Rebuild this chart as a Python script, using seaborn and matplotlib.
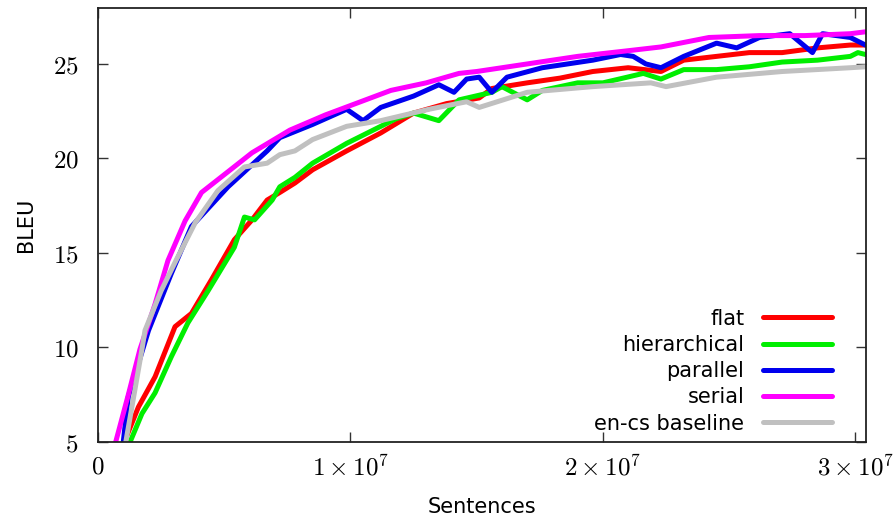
import pandas as pd
import matplotlib
matplotlib.use("Agg")
import matplotlib.pyplot as plt
import seaborn as sns

# -----------------------
# Data (x in millions of sentences)
# -----------------------
flat_x = [1.07, 1.6, 2.26, 3.05, 3.7, 4.5, 5.4, 6.1, 6.7, 7.2, 7.8, 8.5, 9.85, 11.2, 12.5, 13.8,
          15.1, 15.6, 17.0, 18.3, 19.6, 21.0, 22.3, 23.2, 24.5, 25.8, 27.1, 28.5, 29.8, 30.4]
flat_y = [5.1, 6.85, 8.45, 11.1, 11.8, 13.6, 15.7, 16.75, 17.8, 18.2, 18.7, 19.4, 20.4, 21.35, 22.4, 22.9,
          23.2, 23.7, 24.0, 24.25, 24.6, 24.8, 24.6, 25.2, 25.4, 25.6, 25.6, 25.85, 26.0, 26.0]

hier_x = [1.27, 1.74, 2.26, 2.9, 3.56, 4.36, 5.4, 5.8, 6.2, 6.9, 7.2, 7.8, 8.5, 9.85, 11.2, 11.8, 12.5,
          13.5, 14.3, 15.6, 16.0, 17.0, 17.6, 19.0, 20.0, 21.6, 22.3, 23.2, 24.5, 25.8, 27.1, 28.5,
          29.8, 30.1, 30.4]
hier_y = [5.0, 6.5, 7.6, 9.5, 11.3, 13.0, 15.3, 16.9, 16.75, 17.8, 18.5, 19.0, 19.75, 20.8, 21.7, 22.1, 22.4,
          22.0, 23.1, 23.5, 23.8, 23.1, 23.6, 24.0, 24.0, 24.5, 24.2, 24.7, 24.7, 24.85, 25.1, 25.2,
          25.4, 25.6, 25.5]

par_x = [1.0, 1.2, 2.0, 2.9, 3.7, 5.15, 6.7, 7.2, 8.5, 9.85, 10.5, 11.2, 12.5, 13.5, 14.1, 14.6, 15.1,
         15.6, 16.2, 17.6, 19.6, 20.7, 21.2, 21.7, 22.3, 23.2, 24.5, 25.3, 26.2, 27.4, 28.3, 28.7,
         29.8, 30.4]
par_y = [5.0, 7.4, 10.9, 13.9, 16.4, 18.5, 20.4, 21.1, 21.8, 22.6, 22.0, 22.7, 23.3, 23.9, 23.5, 24.2, 24.3,
         23.5, 24.3, 24.8, 25.2, 25.5, 25.4, 25.0, 24.8, 25.4, 26.1, 25.85, 26.4, 26.6, 25.6, 26.6,
         26.4, 26.0]

ser_x = [0.7, 1.2, 1.66, 2.26, 2.77, 3.45, 4.1, 5.15, 6.1, 7.6, 9.0, 10.0, 11.6, 13.0, 14.3, 15.0,
         17.0, 19.0, 21.0, 22.3, 24.2, 26.2, 28.0, 29.8, 30.4]
ser_y = [5.0, 7.5, 9.9, 12.3, 14.6, 16.7, 18.2, 19.3, 20.3, 21.5, 22.3, 22.8, 23.6, 24.0, 24.5, 24.6,
         25.0, 25.4, 25.7, 25.9, 26.4, 26.5, 26.5, 26.6, 26.7]

base_x = [1.1, 1.74, 1.86, 2.5, 3.05, 3.85, 4.75, 5.8, 6.7, 7.2, 7.8, 8.5, 9.85, 11.2, 13.1, 14.6, 15.1,
          17.0, 19.6, 21.9, 22.5, 24.5, 27.1, 29.8, 30.4]
base_y = [5.0, 9.9, 10.9, 13.0, 14.5, 16.6, 18.3, 19.55, 19.75, 20.2, 20.4, 21.0, 21.7, 22.0, 22.6, 23.0, 22.7,
          23.5, 23.8, 24.0, 23.8, 24.3, 24.6, 24.8, 24.85]

labels = ["flat", "hierarchical", "parallel", "serial", "en-cs baseline"]
colors = ["#ff0000", "#00ee00", "#0000ee", "#ff00ff", "#c0c0c0"]
series = [(flat_x, flat_y), (hier_x, hier_y), (par_x, par_y), (ser_x, ser_y), (base_x, base_y)]

# long-form table for seaborn
frames = []
for lab, (xs, ys) in zip(labels, series):
    frames.append(pd.DataFrame({"Sentences": [v * 1e6 for v in xs], "BLEU": ys, "model": lab}))
df = pd.concat(frames, ignore_index=True)

# -----------------------
# Plot
# -----------------------
sns.set_style("ticks")
plt.rcParams["mathtext.fontset"] = "cm"
plt.rcParams["font.family"] = ["DejaVu Sans"]
plt.rcParams["text.color"] = "black"
plt.rcParams["axes.labelcolor"] = "black"

fig = plt.figure(figsize=(8.96, 5.19), dpi=100)
ax = fig.add_axes([0.1094, 0.1484, 0.8571, 0.8362])

sns.lineplot(data=df, x="Sentences", y="BLEU", hue="model", hue_order=labels,
             palette=dict(zip(labels, colors)), linewidth=3.6, sort=False,
             estimator=None, ax=ax)

ax.set_xlim(0, 3.042e7)
ax.set_ylim(5, 27.96)

xticks = [0, 1e7, 2e7, 3e7]
xtick_labels = [r"$0$", r"$1\times10^{7}$", r"$2\times10^{7}$", r"$3\times10^{7}$"]
ax.set_xticks(xticks)
ax.set_xticklabels(xtick_labels, fontsize=18)
yticks = [5, 10, 15, 20, 25]
ax.set_yticks(yticks)
ax.set_yticklabels([r"$%d$" % v for v in yticks], fontsize=18)

ax.tick_params(direction="in", length=7, width=1, top=True, right=True,
               colors="#333333", labelcolor="black")
ax.tick_params(axis="y", pad=14)
ax.tick_params(axis="x", pad=9)
for sp in ax.spines.values():
    sp.set_linewidth(1.3)
    sp.set_color("#222222")

ax.set_xlabel("Sentences", fontsize=15, labelpad=12)
ax.set_ylabel("BLEU", fontsize=15, labelpad=12)

leg = ax.legend(loc="lower right", frameon=False, markerfirst=False, fontsize=15,
                handlelength=3.3, handletextpad=0.9, labelspacing=0.3,
                bbox_to_anchor=(0.98, -0.024))
for line in leg.get_lines():
    line.set_linewidth(3.6)

fig.savefig("out.png", dpi=100)
